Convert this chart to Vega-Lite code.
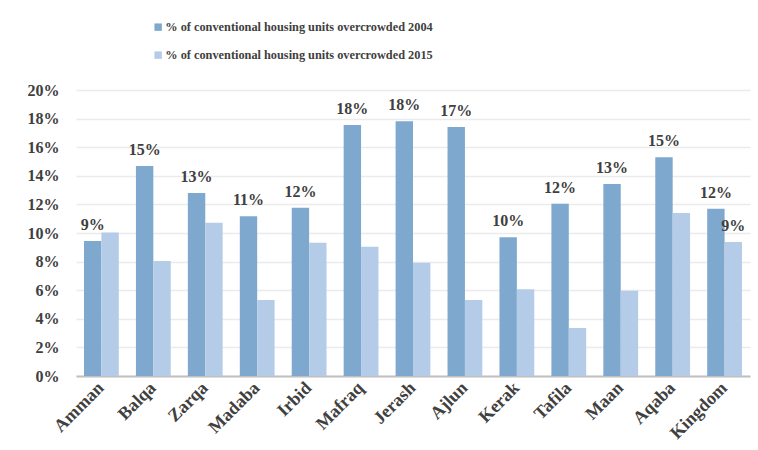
{
  "$schema": "https://vega.github.io/schema/vega-lite/v6.json",
  "autosize": {"type": "none"},
  "padding": {"left": 76, "top": 90, "right": 8, "bottom": 74},
  "width": 674,
  "height": 286,
  "background": "#ffffff",
  "config": {
    "view": {"stroke": null},
    "font": "Liberation Serif",
    "axis": {"labelFont": "Liberation Serif", "labelFontWeight": "bold", "labelColor": "#404040", "labelFontSize": 16}
  },
  "data": {
    "values": [
      {"region": "Amman", "series": "% of conventional housing units overcrowded 2004", "value": 0.0944, "labeled": true},
      {"region": "Amman", "series": "% of conventional housing units overcrowded 2015", "value": 0.1004, "labeled": false},
      {"region": "Balqa", "series": "% of conventional housing units overcrowded 2004", "value": 0.1469, "labeled": true},
      {"region": "Balqa", "series": "% of conventional housing units overcrowded 2015", "value": 0.0804, "labeled": false},
      {"region": "Zarqa", "series": "% of conventional housing units overcrowded 2004", "value": 0.128, "labeled": true},
      {"region": "Zarqa", "series": "% of conventional housing units overcrowded 2015", "value": 0.1072, "labeled": false},
      {"region": "Madaba", "series": "% of conventional housing units overcrowded 2004", "value": 0.1117, "labeled": true},
      {"region": "Madaba", "series": "% of conventional housing units overcrowded 2015", "value": 0.0531, "labeled": false},
      {"region": "Irbid", "series": "% of conventional housing units overcrowded 2004", "value": 0.1177, "labeled": true},
      {"region": "Irbid", "series": "% of conventional housing units overcrowded 2015", "value": 0.0932, "labeled": false},
      {"region": "Mafraq", "series": "% of conventional housing units overcrowded 2004", "value": 0.1755, "labeled": true},
      {"region": "Mafraq", "series": "% of conventional housing units overcrowded 2015", "value": 0.0904, "labeled": false},
      {"region": "Jerash", "series": "% of conventional housing units overcrowded 2004", "value": 0.1781, "labeled": true},
      {"region": "Jerash", "series": "% of conventional housing units overcrowded 2015", "value": 0.0792, "labeled": false},
      {"region": "Ajlun", "series": "% of conventional housing units overcrowded 2004", "value": 0.1741, "labeled": true},
      {"region": "Ajlun", "series": "% of conventional housing units overcrowded 2015", "value": 0.0531, "labeled": false},
      {"region": "Kerak", "series": "% of conventional housing units overcrowded 2004", "value": 0.097, "labeled": true},
      {"region": "Kerak", "series": "% of conventional housing units overcrowded 2015", "value": 0.0606, "labeled": false},
      {"region": "Tafila", "series": "% of conventional housing units overcrowded 2004", "value": 0.1205, "labeled": true},
      {"region": "Tafila", "series": "% of conventional housing units overcrowded 2015", "value": 0.0336, "labeled": false},
      {"region": "Maan", "series": "% of conventional housing units overcrowded 2004", "value": 0.1343, "labeled": true},
      {"region": "Maan", "series": "% of conventional housing units overcrowded 2015", "value": 0.0597, "labeled": false},
      {"region": "Aqaba", "series": "% of conventional housing units overcrowded 2004", "value": 0.1529, "labeled": true},
      {"region": "Aqaba", "series": "% of conventional housing units overcrowded 2015", "value": 0.114, "labeled": false},
      {"region": "Kingdom", "series": "% of conventional housing units overcrowded 2004", "value": 0.117, "labeled": true},
      {"region": "Kingdom", "series": "% of conventional housing units overcrowded 2015", "value": 0.0937, "labeled": true}
    ]
  },
  "encoding": {
    "x": {
      "field": "region", "type": "nominal", "sort": null,
      "scale": {"paddingInner": 0.33, "paddingOuter": 0.154},
      "axis": {"title": null, "labelAngle": -45, "labelAlign": "right", "labelBaseline": "middle", "labelPadding": 9, "labelFontSize": 18, "ticks": false, "domainColor": "#bfbfbf", "domainWidth": 2}
    },
    "xOffset": {"field": "series", "type": "nominal"},
    "y": {
      "field": "value", "type": "quantitative",
      "scale": {"domain": [0, 0.2], "nice": false},
      "axis": {"title": null, "format": ".0%", "values": [0, 0.02, 0.04, 0.06, 0.08, 0.1, 0.12, 0.14, 0.16, 0.18, 0.2], "domain": false, "ticks": false, "labelPadding": 17, "gridColor": "#ebebeb", "gridWidth": 1.5}
    }
  },
  "layer": [
    {
      "mark": {"type": "bar"},
      "encoding": {
        "color": {
          "field": "series", "type": "nominal",
          "scale": {"range": ["#7FA8CE", "#B5CCE8"]},
          "legend": {
            "title": null, "orient": "none", "legendX": 76, "legendY": -69, "direction": "vertical",
            "symbolType": "square", "symbolSize": 55, "symbolStrokeWidth": 0,
            "labelFont": "Liberation Serif", "labelFontWeight": "bold", "labelFontSize": 12.3, "labelColor": "#404040",
            "labelLimit": 0, "rowPadding": 15, "labelOffset": 1
          }
        }
      }
    },
    {
      "transform": [{"filter": "datum.labeled"}],
      "mark": {"type": "text", "font": "Liberation Serif", "fontWeight": "bold", "fontSize": 16, "color": "#404040", "baseline": "alphabetic", "dy": -11},
      "encoding": {
        "text": {"field": "value", "type": "quantitative", "format": ".0%"}
      }
    }
  ]
}
